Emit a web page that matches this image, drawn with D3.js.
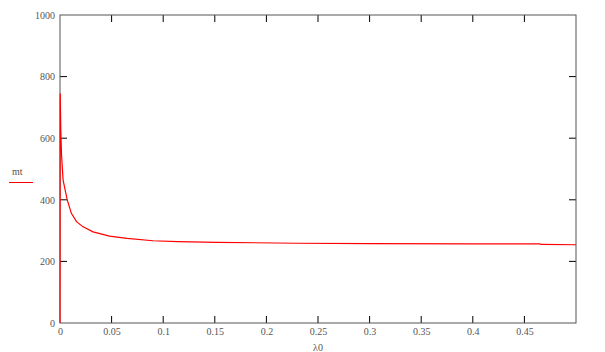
<!DOCTYPE html>
<html>
<head>
<meta charset="utf-8">
<script src="https://cdn.jsdelivr.net/npm/d3@7"></script>
<style>
  body { margin: 0; background: #fff; }
  text { font-family: "Liberation Serif", "Times New Roman", "DejaVu Serif", serif; }
</style>
</head>
<body>
<div id="chart"></div>
<script>
// values
const lambda0 = [0, 0.0002, 0.0008, 0.0015, 0.003, 0.007, 0.011, 0.016, 0.022, 0.032, 0.048,
                 0.065, 0.09, 0.114, 0.152, 0.23, 0.3, 0.4, 0.465, 0.466, 0.5];
const mt = [0, 745, 620, 545, 464, 400, 356, 329, 313, 296, 282,
            275, 267, 264, 262, 259, 258, 257, 257, 255, 254];
const xTicks = [0, 0.05, 0.1, 0.15, 0.2, 0.25, 0.3, 0.35, 0.4, 0.45];
const yTicks = [0, 200, 400, 600, 800, 1000];

const serif = "'Liberation Serif', 'Times New Roman', 'DejaVu Serif', serif";

const margin = {top: 15, right: 29, bottom: 29, left: 60};
const width = 605 - margin.left - margin.right;
const height = 352 - margin.top - margin.bottom;

const svg = d3.select("#chart").append("svg")
    .attr("width", 605)
    .attr("height", 352)
    .append("g")
    .attr("transform", "translate(" + margin.left + "," + margin.top + ")");

const x = d3.scaleLinear().domain([0, 0.5]).range([0, width]);
const y = d3.scaleLinear().domain([0, 1000]).range([height, 0]);

// bottom axis labels
svg.append("g")
    .call(d3.axisBottom(x).tickValues(xTicks).tickSize(0).tickPadding(5).tickFormat(d => String(d)))
    .attr("transform", "translate(0," + height + ")")
    .attr("font-family", serif)
    .attr("font-size", 10)
    .call(g => g.select(".domain").remove())
    .call(g => g.selectAll("text").attr("fill", "#555"));

// left axis labels
svg.append("g")
    .call(d3.axisLeft(y).tickValues(yTicks).tickSize(0).tickPadding(5).tickFormat(d => String(d)))
    .attr("font-family", serif)
    .attr("font-size", 10)
    .call(g => g.select(".domain").remove())
    .call(g => g.selectAll("text").attr("fill", "#555"));

// inward ticks on all four sides
const tickLen = 7;
const ticks = svg.append("g").attr("stroke", "#000").attr("stroke-width", 1);
xTicks.filter(d => d > 0).forEach(d => {
    ticks.append("line").attr("x1", x(d)).attr("x2", x(d)).attr("y1", height).attr("y2", height - tickLen);
    ticks.append("line").attr("x1", x(d)).attr("x2", x(d)).attr("y1", 0).attr("y2", tickLen);
});
yTicks.filter(d => d > 0 && d < 1000).forEach(d => {
    ticks.append("line").attr("x1", 0).attr("x2", tickLen).attr("y1", y(d)).attr("y2", y(d));
    ticks.append("line").attr("x1", width).attr("x2", width - tickLen).attr("y1", y(d)).attr("y2", y(d));
});

// frame
svg.append("rect")
    .attr("width", width)
    .attr("height", height)
    .attr("fill", "none")
    .attr("stroke", "#555")
    .attr("stroke-width", 1);

// curve
const line = d3.line()
    .x((d, i) => x(lambda0[i]))
    .y(d => y(d));

svg.append("path")
    .datum(mt)
    .attr("d", line)
    .attr("fill", "none")
    .attr("stroke", "#ff0000")
    .attr("stroke-width", 1.2);

// x label
svg.append("text")
    .attr("x", width / 2)
    .attr("y", height + 28)
    .attr("text-anchor", "middle")
    .attr("font-family", serif)
    .attr("font-size", 10)
    .attr("fill", "#555")
    .text("λ0");

// legend
svg.append("text")
    .attr("x", 12 - margin.left)
    .attr("y", 175 - margin.top)
    .attr("font-family", serif)
    .attr("font-size", 10)
    .attr("fill", "#555")
    .text("mt");

svg.append("line")
    .attr("x1", 9 - margin.left)
    .attr("x2", 33 - margin.left)
    .attr("y1", 182.5 - margin.top)
    .attr("y2", 182.5 - margin.top)
    .attr("stroke", "#ff0000")
    .attr("stroke-width", 1);
</script>
</body>
</html>
